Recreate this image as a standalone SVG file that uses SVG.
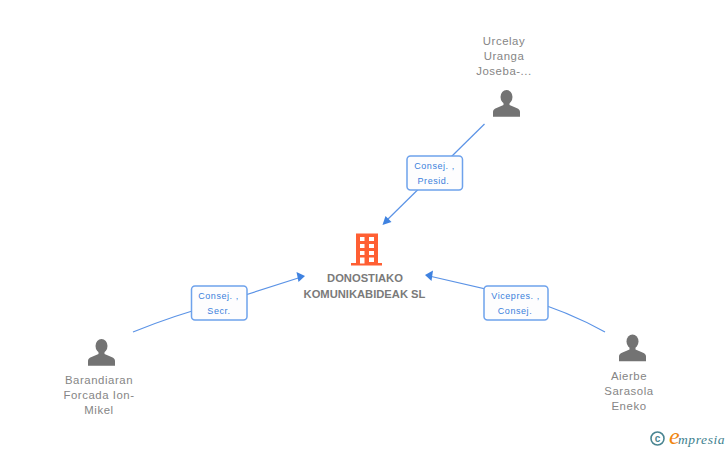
<svg xmlns="http://www.w3.org/2000/svg" width="728" height="450" viewBox="0 0 728 450">
<style>
.n{font:11.4px "Liberation Sans",Arial,sans-serif;fill:#858585;text-anchor:middle;letter-spacing:.55px}
.c{font:bold 11.2px "Liberation Sans",Arial,sans-serif;fill:#7a7a7a;text-anchor:middle}
.l{font:9px "Liberation Sans",Arial,sans-serif;fill:#3b7fdc;text-anchor:middle;letter-spacing:.55px}
.e{fill:none;stroke:#5b93e6;stroke-width:1.2}
.a{fill:#3f82e0}
.b{fill:#fdfdfe;stroke:#6ea2ec;stroke-width:1.5}
.p{fill:#737373}
</style>
<defs>
<g id="person"><ellipse cx="0" cy="-12" rx="6" ry="7"/><path d="M-3-7h6v3l7 3c2.500 1 3.500 2 3.500 4v4.700h-27v-4.700c0-2 1-3 3.500-4l7-3z"/></g>
</defs>
<g id="connectors">
<path class="e" d="M484.500 124 L384 223"/><path class="a" d="M382.500 225 L385.500 216 L391.500 222z"/>
<path class="e" d="M133 332 C160 321 190 311 220 303 L303 276.500"/><path class="a" d="M305 276 L296.500 272 L298.500 282z"/>
<path class="e" d="M605 332 C580 318 550 306 520 297 L427 275.500"/><path class="a" d="M425 275 L433 270.500 L431.500 281z"/>
</g>
<g id="label-presid"><rect class="b" x="407" y="156" width="55.500" height="34" rx="3.500"/><text class="l" x="434.500" y="169">Consej. ,</text><text class="l" x="433.500" y="184">Presid.</text></g>
<g id="label-secr"><rect class="b" x="191.500" y="286" width="55.500" height="34" rx="3.500"/><text class="l" x="218.500" y="299">Consej. ,</text><text class="l" x="219" y="314">Secr.</text></g>
<g id="label-vicepres"><rect class="b" x="484" y="286" width="64" height="34" rx="3.500"/><text class="l" x="515.500" y="299">Vicepres. ,</text><text class="l" x="515" y="314">Consej.</text></g>
<g id="company">
<path fill="#ff5f33" fill-rule="evenodd" d="M356 233.500h22v29.500h4v2.500h-31v-2.500h5z M360 237v4h4.500v-4z M369 237v4h5v-4z M360 244v4h4.500v-4z M369 244v4h5v-4z M360 251v4h4.500v-4z M369 251v4h5v-4z M360 257.500v6h4.500v-6z M369 257.500v4.500h5v-4.500z"/>
<text class="c" x="365" y="282">DONOSTIAKO</text><text class="c" x="364.500" y="298">KOMUNIKABIDEAK SL</text>
</g>
<g id="person-urcelay"><use href="#person" class="p" x="506.500" y="109"/><text class="n" x="504" y="45">Urcelay</text><text class="n" x="504" y="60">Uranga</text><text class="n" x="504" y="75">Joseba-...</text></g>
<g id="person-barandiaran"><use href="#person" class="p" x="101.500" y="358"/><text class="n" x="99" y="384">Barandiaran</text><text class="n" x="99" y="399">Forcada Ion-</text><text class="n" x="99" y="414">Mikel</text></g>
<g id="person-aierbe"><use href="#person" class="p" x="632.500" y="353.500"/><text class="n" x="629" y="380">Aierbe</text><text class="n" x="629" y="395">Sarasola</text><text class="n" x="629" y="410">Eneko</text></g>
<g id="logo">
<circle cx="657.500" cy="438.500" r="6.500" fill="none" stroke="#4a8591" stroke-width="1.600"/>
<text x="657.500" y="442" font-family="Liberation Sans,sans-serif" font-size="10" font-weight="bold" fill="#4a8591" text-anchor="middle">c</text>
<text x="669" y="444" font-family="Liberation Serif,serif" font-size="24" font-style="italic" fill="#f0860f">e</text>
<text x="678" y="443.500" font-family="Liberation Serif,serif" font-size="13.500" font-style="italic" fill="#3e7f8e" letter-spacing=".6">mpresia</text>
</g>
</svg>
